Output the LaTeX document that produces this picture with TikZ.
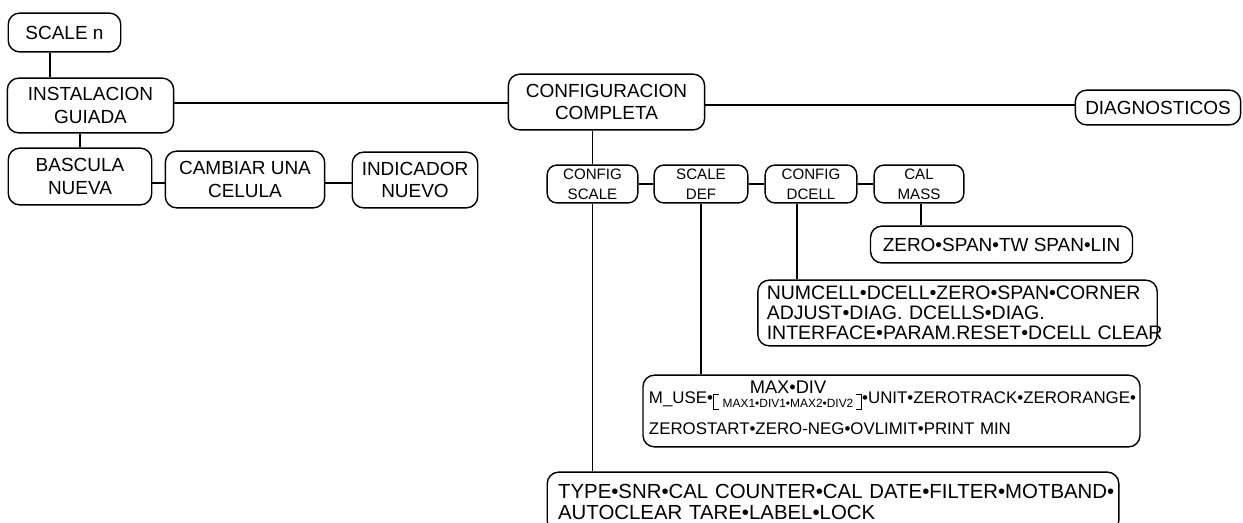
\documentclass[tikz,border=0pt]{standalone}
\usepackage{fontspec}
\setmainfont{Liberation Sans}
\usepackage{tikz}

% Thin square brackets round the stacked range setting.
\newcommand\lbrk{\raisebox{-3.5pt}{\vrule width0.5pt height9pt depth0pt\kern-0.5pt%
  \rlap{\rule{3.5pt}{0.5pt}}\raisebox{8.5pt}{\rule{3.5pt}{0.5pt}}}}
\newcommand\rbrk{\raisebox{-3.5pt}{\rlap{\raisebox{8.5pt}{\rule{3.5pt}{0.5pt}}}%
  \rule{3.5pt}{0.5pt}\kern-0.5pt\vrule width0.5pt height9pt depth0pt}}
\newsavebox\smallrange

\begin{document}
\begin{tikzpicture}[
  x=0.02cm, y=-0.02cm,
  line width=0.8pt,
  % One unit is one pixel of the menu chart; sizes are given in the same unit.
  sz/.style 2 args={minimum width={#1*0.5669pt},minimum height={#2*0.5669pt}},
  menu/.style={draw,rounded corners=6.5pt,inner sep=0pt,align=center,
    font=\fontsize{10.8}{12.6}\selectfont},
  submenu/.style={menu,rounded corners=5.5pt,font=\fontsize{8.6}{11.3}\selectfont},
  list/.style={draw,rounded corners=6.5pt,inner ysep=0pt,align=left,
    text width={#1*0.5669pt},font=\fontsize{10.8}{11.5}\selectfont},
]
\useasboundingbox (0,0) rectangle (1243,522);

%--- top level ---------------------------------------------------------------
\node[menu,sz={113}{39}] (scalen) at (64.5,32.5) {SCALE n};
\node[menu,sz={167}{55}] (inst) at (90.5,105.5) {INSTALACION\\GUIADA};
\node[menu,sz={197}{56}] (completa) at (606.5,102) {CONFIGURACION\\COMPLETA};
\node[menu,sz={166}{35}] (diag) at (1158,107.5) {DIAGNOSTICOS};

\draw (scalen.south -| 50,0) -- (inst.north -| 50,0);
\draw (inst.east |- 0,103) -- (completa.west |- 0,103);
\draw (completa.east |- 0,105) -- (diag.west |- 0,105);

%--- guided installation -----------------------------------------------------
\node[menu,sz={144}{57}] (bascula) at (80,176.5) {BASCULA\\NUEVA};
\node[menu,sz={160}{57}] (cambiar) at (245,179.5) {CAMBIAR UNA\\CELULA};
\node[menu,sz={126}{56}] (indicador) at (415,180) {INDICADOR\\NUEVO};

\draw (inst.south -| 80,0) -- (bascula.north -| 80,0);
\draw (bascula.east |- 0,183) -- (cambiar.west |- 0,183);
\draw (cambiar.east |- 0,183) -- (indicador.west |- 0,183);

%--- full configuration: the four sub-menus ----------------------------------
\node[submenu,sz={91}{38}] (cfgscale) at (592.5,184) {CONFIG\\SCALE};
\node[submenu,sz={94}{38}] (scaledef) at (701,184) {SCALE\\DEF};
\node[submenu,sz={92}{38}] (cfgdcell) at (811,184) {CONFIG\\DCELL};
\node[submenu,sz={90}{38}] (calmass) at (919,184) {CAL\\MASS};

\draw (completa.south -| cfgscale.north) -- (cfgscale.north);
\foreach \a/\b in {cfgscale/scaledef,scaledef/cfgdcell,cfgdcell/calmass}
  \draw (\a.east) -- (\b.west);

%--- parameter lists ---------------------------------------------------------
\node[menu,sz={263}{37}] (zerolin) at (1001.5,244.5) {ZERO•SPAN•TW SPAN•LIN};

\node[list=383,inner xsep=5.1pt,minimum height={66*0.5669pt},
  font=\fontsize{11.1}{11.5}\selectfont] (numcell) at (957.5,313)
  {NUMCELL•DCELL•ZERO•SPAN•CORNER\\ADJUST•DIAG. DCELLS•DIAG.\\
   \mbox{INTERFACE•PARAM.RESET•DCELL CLEAR}};

% The max/div pair is stacked over its two-range variant.
\node[list=487,inner xsep=3.4pt,text depth=21.4pt,minimum height={72*0.5669pt},
  font=\fontsize{9.6}{11.5}\selectfont] (muse) at (891.5,411)
  {\sbox\smallrange{\fontsize{6.8}{6.8}\selectfont MAX1•DIV1•MAX2•DIV2}%
   M\_USE•\lbrk\kern2pt
   \rlap{\raisebox{6pt}{\makebox[\wd\smallrange]{\fontsize{10.4}{11}\selectfont MAX•DIV}}}%
   \raisebox{-2pt}{\usebox\smallrange}\kern1.5pt\rbrk
   •UNIT•ZEROTRACK•ZERORANGE•\\[6pt]
   ZEROSTART•ZERO-NEG•OVLIMIT•PRINT MIN};

\node[list=552,inner xsep=6.2pt,minimum height={60*0.5669pt},
  font=\fontsize{11.6}{11.5}\selectfont] (typebox) at (833,502)
  {\mbox{TYPE•SNR•CAL COUNTER•CAL DATE•FILTER•MOTBAND•}\\
   AUTOCLEAR TARE•LABEL•LOCK};

\draw (calmass.south -| 921,0) -- (zerolin.north -| 921,0);
\draw (cfgdcell.south -| 797,0) -- (numcell.north -| 797,0);
\draw (scaledef.south) -- (scaledef.south |- muse.north);
\draw (cfgscale.south) -- (cfgscale.south |- typebox.north);

\end{tikzpicture}
\end{document}
